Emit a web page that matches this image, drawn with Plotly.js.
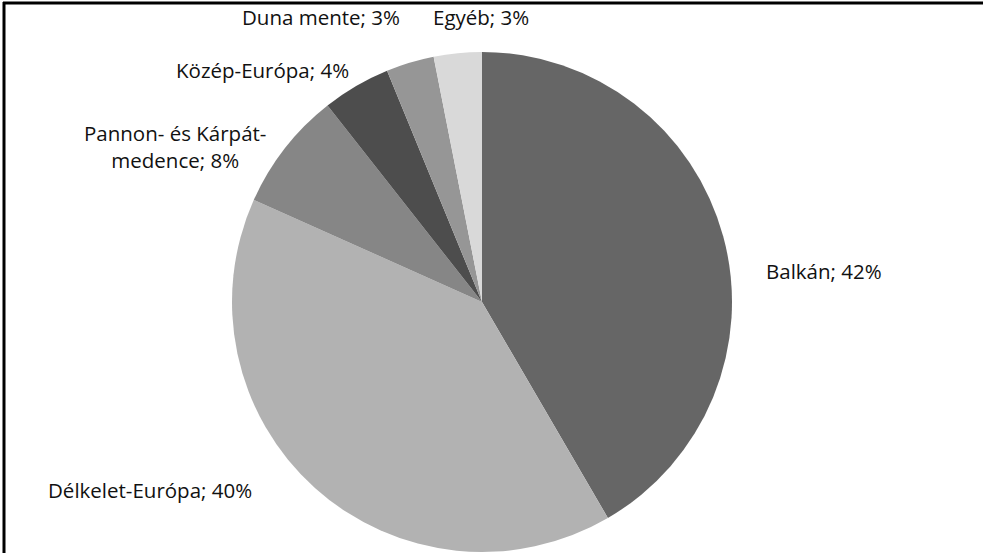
<!DOCTYPE html>
<html>
<head>
<meta charset="utf-8">
<script src="https://cdn.plot.ly/plotly-3.0.1.min.js"></script>
<style>html,body{margin:0;padding:0;background:#fff;}#chart{width:985px;height:553px;}</style>
</head>
<body>
<div id="chart"></div>
<script>
var regions = ["Balkán", "Délkelet-Európa", "Pannon- és Kárpát-medence", "Közép-Európa", "Duna mente", "Egyéb"];
var shares = [41.6, 40.1, 7.7, 4.4, 3.1, 3.1];
var shownPct = ["42%", "40%", "8%", "4%", "3%", "3%"];
var labelLines = [
  "Balkán; 42%",
  "Délkelet-Európa; 40%",
  "Pannon- és Kárpát-<br>medence; 8%",
  "Közép-Európa; 4%",
  "Duna mente; 3%",
  "Egyéb; 3%"
];
var sliceColors = ["#666666", "#B2B2B2", "#868686", "#4D4D4D", "#969696", "#D9D9D9"];

var W = 985, H = 553;
var cx = 482, cy = 302, R = 250;
// label centres in pixels
var labelPos = [[824, 271], [150, 490], [175, 146], [262, 70], [321, 17], [481, 17]];

var annotations = labelLines.map(function (t, i) {
  return {
    text: t, showarrow: false, xref: 'paper', yref: 'paper',
    x: labelPos[i][0] / W, y: 1 - labelPos[i][1] / H,
    xanchor: 'center', yanchor: 'middle', align: 'center',
    font: {family: 'Open Sans, sans-serif', size: 20.5, color: '#111111'}
  };
});

var trace = {
  type: 'pie',
  labels: regions,
  values: shares,
  sort: false,
  direction: 'clockwise',
  rotation: 0,
  textinfo: 'none',
  hoverinfo: 'label+percent',
  marker: {colors: sliceColors, line: {width: 0}},
  domain: {x: [(cx - R) / W, (cx + R) / W], y: [(H - cy - R) / H, (H - cy + R) / H]}
};

var layout = {
  width: W, height: H,
  margin: {l: 0, r: 0, t: 0, b: 0},
  paper_bgcolor: '#ffffff',
  showlegend: false,
  annotations: annotations,
  shapes: [
    {type: 'line', xref: 'paper', yref: 'paper', x0: 3 / W, x1: 983 / W, y0: 1 - 3 / H, y1: 1 - 3 / H, line: {color: '#000', width: 3}},
    {type: 'line', xref: 'paper', yref: 'paper', x0: 4 / W, x1: 4 / W, y0: 0, y1: 1 - 2 / H, line: {color: '#000', width: 3}}
  ]
};

Plotly.newPlot('chart', [trace], layout, {displayModeBar: false, staticPlot: true});
</script>
</body>
</html>
